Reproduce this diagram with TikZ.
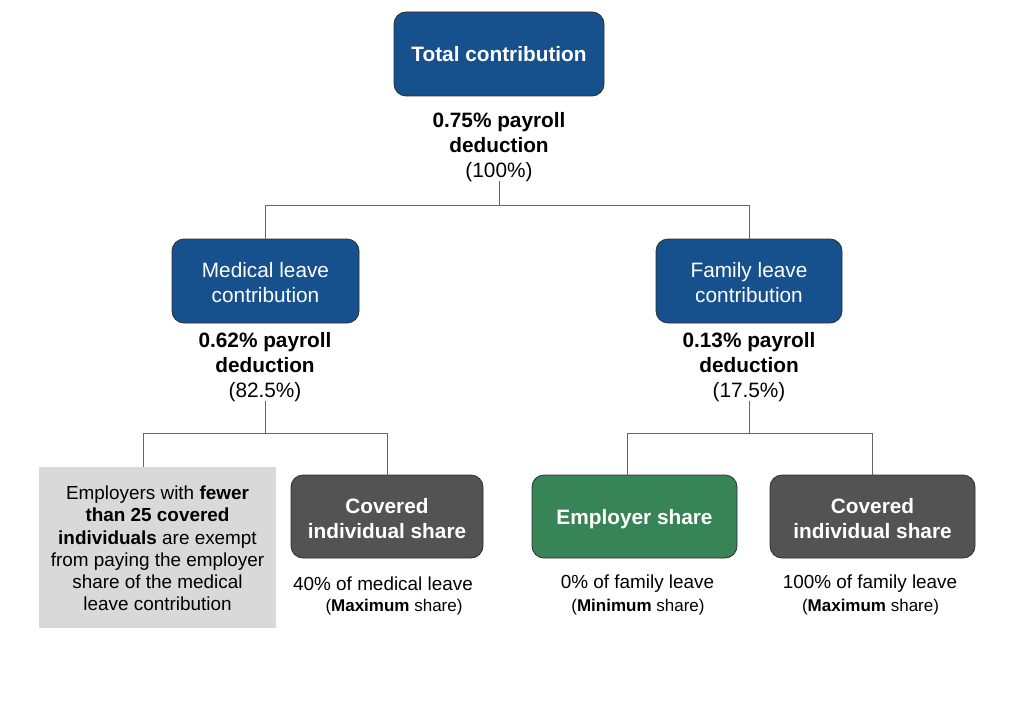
\documentclass[tikz,border=0pt]{standalone}
\usepackage{fontspec}
\setmainfont{Liberation Sans}
\definecolor{boxblue}{HTML}{16518E}
\definecolor{boxgreen}{HTML}{378556}
\definecolor{boxdark}{HTML}{535353}
\definecolor{boxlight}{HTML}{D9D9D9}
\definecolor{linegray}{HTML}{666666}
\definecolor{edgegray}{HTML}{2E2E2E}
\newcommand\mytallstrut{\rule{0pt}{19pt}}
\begin{document}
\begin{tikzpicture}[x=1pt,y=-1pt,
  bigfont/.style={font=\fontsize{20.8}{25}\selectfont},
  midfont/.style={font=\fontsize{18.9}{22.2}\selectfont},
  smallfont/.style={font=\fontsize{17}{20}\selectfont},
  rbox/.style={rectangle, rounded corners=12pt, draw=edgegray, line width=0.8pt, text=white, align=center, inner sep=0pt, bigfont},
  bluebox/.style={rbox, fill=boxblue},
  greenbox/.style={rbox, fill=boxgreen},
  darkbox/.style={rbox, fill=boxdark},
  lbl/.style={align=center, inner sep=1pt, text=black},
  conn/.style={draw=linegray, line width=1pt}
]
\useasboundingbox (0,0) rectangle (1024,722);
\fill[white] (0,0) rectangle (1024,722);

% Top
\node[bluebox, minimum width=210pt, minimum height=84pt] (total) at (499,54) {\textbf{Total contribution}};
\node[lbl, bigfont] (toplbl) at (499,147) {\textbf{0.75\% payroll}\\\textbf{deduction}\\(100\%)};

% Second level
\node[bluebox, minimum width=187pt, minimum height=84pt] (med) at (265.5,281) {\mytallstrut Medical leave\\contribution};
\node[bluebox, minimum width=186pt, minimum height=84pt] (fam) at (749,281) {\mytallstrut Family leave\\contribution};
\node[lbl, bigfont] (medlbl) at (265,367) {\textbf{0.62\% payroll}\\\textbf{deduction}\\(82.5\%)};
\node[lbl, bigfont] (famlbl) at (749,367) {\textbf{0.13\% payroll}\\\textbf{deduction}\\(17.5\%)};

% Third level
\node[rectangle, fill=boxlight, minimum width=237pt, minimum height=161pt, inner sep=0pt, align=center, midfont] (gray) at (157.5,547.5)
  {\rule{0pt}{15.5pt}Employers with \textbf{fewer}\\\textbf{than 25 covered}\\\textbf{individuals} are exempt\\from paying the employer\\share of the medical\\leave contribution};
\node[darkbox, minimum width=192pt, minimum height=83pt] (covl) at (387,516.5) {\mytallstrut\textbf{Covered}\\\textbf{individual share}};
\node[greenbox, minimum width=205pt, minimum height=83pt, text depth=0pt] (emp) at (634.5,516.5) {\textbf{Employer share}};
\node[darkbox, minimum width=205pt, minimum height=83pt] (covr) at (872.5,516.5) {\mytallstrut\textbf{Covered}\\\textbf{individual share}};

\node[lbl, midfont] (covlA) at (383,584) {40\% of medical leave};
\node[lbl, smallfont] (covlB) at (394,607) {(\textbf{Maximum} share)};
\node[lbl, midfont] (empA) at (637.5,584) {0\% of family leave};
\node[lbl, smallfont] (empB) at (638,607) {(\textbf{Minimum} share)};
\node[lbl, midfont] (covrA) at (870,584) {100\% of family leave};
\node[lbl, smallfont] (covrB) at (870.5,607) {(\textbf{Maximum} share)};

% Connectors
\coordinate (j1) at (499,205);
\coordinate (j2) at (265,433);
\coordinate (j3) at (749,433);
\draw[conn] ([yshift=2pt]toplbl.south) -- (j1);
\draw[conn] (j1) -| (med.north);
\draw[conn] (j1) -| (fam.north);
\draw[conn] ([yshift=2pt]medlbl.south) -- (j2);
\draw[conn] (j2) -| ([xshift=-14.5pt]gray.north);
\draw[conn] (j2) -| (covl.north);
\draw[conn] ([yshift=2pt]famlbl.south) -- (j3);
\draw[conn] (j3) -| ([xshift=-7.5pt]emp.north);
\draw[conn] (j3) -| (covr.north);
\end{tikzpicture}
\end{document}
